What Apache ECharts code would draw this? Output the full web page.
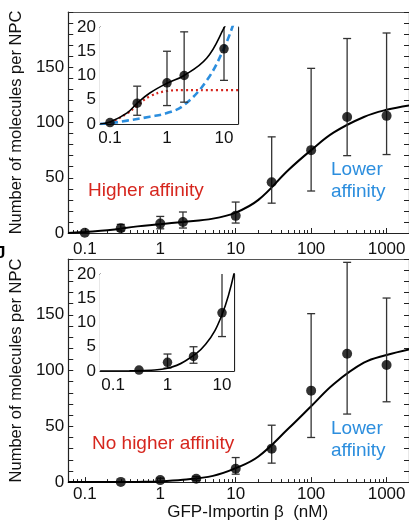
<!DOCTYPE html>
<html>
<head>
<meta charset="utf-8">
<script src="https://cdn.jsdelivr.net/npm/echarts@6/dist/echarts.min.js"></script>
<style>
  html, body { margin: 0; padding: 0; background: #fff; }
  #chart { width: 409px; height: 522px; }
</style>
</head>
<body>
<div id="chart"></div>
<script>
// ---- panel A : with the higher affinity site ----
var concA = [0.1, 0.3, 1, 2, 10, 30, 100, 300, 1000];
var meanA = [0.3, 4.3, 8.5, 10, 15.5, 46, 75, 105, 106];
var lowA  = [0.3, 1.8, 3.8, 4.5, 9, 27, 38, 70, 71];
var highA = [0.3, 7.8, 15, 19, 28, 87, 149, 176, 181];
// fit
var fitA = [[0.06, 0], [0.1, 1], [0.2, 2.5], [0.5, 6], [1, 8], [2, 10], [5, 13],
            [10, 18.5], [20, 30], [50, 57], [100, 75], [200, 91], [500, 105],
            [1000, 111.5], [1990, 115.5]];
// fits
var fitAin = [[0.067, 0], [0.1, 0.4], [0.2, 2.3], [0.3, 4.3], [0.5, 6.4], [1, 8.4],
              [2, 10], [5, 13.6], [10, 19.8], [12, 22]];
var highSite = [[0.067, 0], [0.1, 0.3], [0.2, 2.2], [0.3, 3.8], [0.5, 5.7], [1, 6.8],
                [2, 7], [5, 7], [17.6, 7]];
var lowSite = [[0.067, 0], [0.1, 0.15], [0.2, 0.7], [0.5, 1.5], [1, 2.25], [2, 3.9],
               [5, 9], [10, 15.6], [15, 21]];

// ---- panel B : no higher affinity site ----
var concB = [0.3, 1, 3, 10, 30, 100, 300, 1000];
var meanB = [0.2, 1.8, 3, 12, 30, 82, 115, 105];
var lowB  = [0.2, 0.6, 1.6, 7.1, 17, 40, 61, 72];
var highB = [0.2, 3.5, 5, 22, 51, 151, 197, 165];
var fitB = [[0.06, 0], [0.2, 0.05], [0.5, 0.2], [1, 0.6], [2, 2], [5, 5.6], [10, 12.5],
            [20, 23], [50, 48], [100, 68], [200, 88], [500, 107], [1000, 114], [1990, 119]];
var fitBin = [[0.058, 0], [0.2, 0.03], [0.5, 0.15], [1, 0.55], [2, 1.9], [5, 5.5],
              [10, 11.6], [17, 20.6]];

var decadeTicks = [0.1, 1, 10, 100, 1000];
var decadeLabels = ['0.1', '1', '10', '100', '1000'];

var axisColor = '#222';
var fontFam = 'Arial, sans-serif';

function minorTicks(min, max) {
  var out = [];
  [0.01, 0.1, 1, 10, 100, 1000].forEach(function (d) {
    for (var k = 2; k <= 9; k++) {
      var v = k * d;
      if (v > min && v < max) out.push(v);
    }
  });
  return out;
}

function decadeLabel(v) {
  for (var i = 0; i < decadeTicks.length; i++) {
    if (Math.abs(Math.log10(v) - Math.log10(decadeTicks[i])) < 0.01) return decadeLabels[i];
  }
  return '';
}

// three x axes per grid: labelled decades, minor ticks, top frame line
function xAxes(gi, min, max, tickLen, margin, extra) {
  var majors = decadeTicks.filter(function (v) { return v > min && v < max; });
  var a = {
    type: 'log', gridIndex: gi, min: min, max: max, position: 'bottom',
    axisLine: { lineStyle: { color: axisColor, width: 1.2 } },
    axisTick: { inside: true, length: tickLen, customValues: majors, lineStyle: { color: axisColor } },
    axisLabel: { customValues: majors, formatter: decadeLabel, fontSize: 17, color: '#111',
                 fontFamily: fontFam, margin: margin },
    splitLine: { show: false }
  };
  for (var k in extra) a[k] = extra[k];
  return [a, {
    type: 'log', gridIndex: gi, min: min, max: max, position: 'bottom',
    axisLine: { show: false },
    axisTick: { inside: true, length: Math.round(tickLen * 0.6), customValues: minorTicks(min, max),
                lineStyle: { color: axisColor } },
    axisLabel: { show: false }, splitLine: { show: false }
  }, {
    type: 'log', gridIndex: gi, min: min, max: max, position: 'top',
    axisLine: { lineStyle: { color: '#555', width: 1.2 } },
    axisTick: { show: false }, axisLabel: { show: false }, splitLine: { show: false }
  }];
}

function yAxes(gi, max, step, labelStep, tickLen, extra) {
  var a = {
    type: 'value', gridIndex: gi, min: 0, max: max, interval: step, position: 'left',
    axisLine: { show: true, lineStyle: { color: axisColor, width: 1.2 } },
    axisTick: { show: true, inside: true, length: tickLen, lineStyle: { color: axisColor } },
    axisLabel: {
      fontSize: 17, color: '#111', fontFamily: fontFam, margin: 4,
      formatter: function (v) { return (v % labelStep === 0 && (labelStep < 10 || v < max)) ? String(v) : ''; }
    },
    splitLine: { show: false }
  };
  for (var k in extra) a[k] = extra[k];
  return [a, {
    type: 'value', gridIndex: gi, min: 0, max: max, interval: step, position: 'right',
    axisLine: { show: true, lineStyle: { color: axisColor, width: 1.2 } },
    axisTick: { show: true, inside: true, length: tickLen, lineStyle: { color: axisColor } },
    axisLabel: { show: false }, splitLine: { show: false }
  }];
}

function pairs(xs, ys) { return xs.map(function (x, i) { return [x, ys[i]]; }); }

function errorBars(xs, lo, hi, xi, yi, cap, z) {
  return {
    type: 'custom', xAxisIndex: xi, yAxisIndex: yi, z: z, clip: true,
    data: xs.map(function (x, i) { return [x, lo[i], hi[i]]; }),
    encode: { x: 0, y: [1, 2] },
    renderItem: function (params, api) {
      var x = api.value(0), l = api.value(1), h = api.value(2);
      if (h - l < 0.01) return;
      var p1 = api.coord([x, h]), p2 = api.coord([x, l]);
      var st = { stroke: '#333', lineWidth: 1.3 };
      return { type: 'group', children: [
        { type: 'line', shape: { x1: p1[0], y1: p1[1], x2: p2[0], y2: p2[1] }, style: st },
        { type: 'line', shape: { x1: p1[0] - cap, y1: p1[1], x2: p1[0] + cap, y2: p1[1] }, style: st },
        { type: 'line', shape: { x1: p2[0] - cap, y1: p2[1], x2: p2[0] + cap, y2: p2[1] }, style: st }
      ] };
    }
  };
}

function curve(data, xi, yi, color, width, type, z) {
  return {
    type: 'line', xAxisIndex: xi, yAxisIndex: yi, data: data, smooth: 0.4,
    showSymbol: false, silent: true, z: z, clip: true,
    lineStyle: { color: color, width: width, type: type }
  };
}

function dots(xs, ys, xi, yi, size, z) {
  return {
    type: 'scatter', xAxisIndex: xi, yAxisIndex: yi, data: pairs(xs, ys),
    symbolSize: size, itemStyle: { color: '#000' }, z: z, clip: true
  };
}

var yName = {
  name: 'Number of molecules per NPC', nameLocation: 'middle', nameGap: 23,
  nameTextStyle: { fontSize: 16.5, color: '#111', fontFamily: fontFam }
};
var xName = {
  name: 'GFP-Importin β  (nM)', nameLocation: 'middle', nameGap: 20,
  nameTextStyle: { fontSize: 17, color: '#111', fontFamily: fontFam, padding: [0, 0, 0, 18] }
};

var xAx = [].concat(
  xAxes(0, 0.0604, 1982, 5, 8, {}),       // 0,1,2
  xAxes(1, 0.0668, 17.6, 4, 6, {}),       // 3,4,5
  xAxes(2, 0.0604, 1982, 5, 4, xName),    // 6,7,8
  xAxes(3, 0.0577, 16.6, 4, 6, {})        // 9,10,11
);
var yAx = [].concat(
  yAxes(0, 200, 10, 50, 5, yName),        // 0,1
  yAxes(1, 20, 1, 5, 3, {}),              // 2,3
  yAxes(2, 200, 10, 50, 5, yName),        // 4,5
  yAxes(3, 20, 1, 5, 3, {})               // 6,7
);

var red = 'rgb(214,38,30)';
var blue = 'rgb(44,142,222)';

var option = {
  animation: false,
  backgroundColor: '#fff',
  grid: [
    { left: 60, top: 12, width: 350, height: 221 },
    { left: 100, top: 27, width: 138, height: 97, show: true, backgroundColor: '#fff', borderWidth: 0, z: 3 },
    { left: 60, top: 259, width: 350, height: 224 },
    { left: 100, top: 274, width: 134, height: 97, show: true, backgroundColor: '#fff', borderWidth: 0, z: 3 }
  ],
  xAxis: xAx,
  yAxis: yAx,
  series: [
    // panel A main
    curve(fitA, 0, 0, '#000', 2, 'solid', 3),
    errorBars(concA, lowA, highA, 0, 0, 4, 4),
    dots(concA, meanA, 0, 0, 10, 5),
    // panel A inset
    curve(highSite, 3, 2, red, 2.2, [2, 3], 6),
    curve(lowSite, 3, 2, blue, 2.6, [7, 4], 6),
    curve(fitAin, 3, 2, '#000', 1.6, 'solid', 7),
    errorBars(concA, lowA, highA, 3, 2, 4, 7),
    dots(concA, meanA, 3, 2, 9.5, 8),
    // panel B main
    curve(fitB, 6, 4, '#000', 2, 'solid', 3),
    errorBars(concB, lowB, highB, 6, 4, 4, 4),
    dots(concB, meanB, 6, 4, 10, 5),
    // panel B inset
    curve(fitBin, 9, 6, '#000', 1.6, 'solid', 7),
    errorBars(concB, lowB, highB, 9, 6, 4, 7),
    dots(concB, meanB, 9, 6, 9.5, 8)
  ],
  graphic: [
    { type: 'text', left: -4, top: 245, z: 10,
      style: { text: 'J', fill: '#000', fontSize: 17, fontWeight: 'bold', fontFamily: fontFam } },
    { type: 'text', left: 88, top: 181, z: 10,
      style: { text: 'Higher affinity', fill: red, fontSize: 19, fontFamily: fontFam } },
    { type: 'text', left: 331, top: 159, z: 10,
      style: { text: 'Lower\naffinity', fill: blue, fontSize: 19, lineHeight: 22, align: 'center', fontFamily: fontFam } },
    { type: 'text', left: 92, top: 434, z: 10,
      style: { text: 'No higher affinity', fill: red, fontSize: 19, fontFamily: fontFam } },
    { type: 'text', left: 331, top: 418, z: 10,
      style: { text: 'Lower\naffinity', fill: blue, fontSize: 19, lineHeight: 22, align: 'center', fontFamily: fontFam } }
  ]
};

var chart = echarts.init(document.getElementById('chart'));
chart.setOption(option);
</script>
</body>
</html>
